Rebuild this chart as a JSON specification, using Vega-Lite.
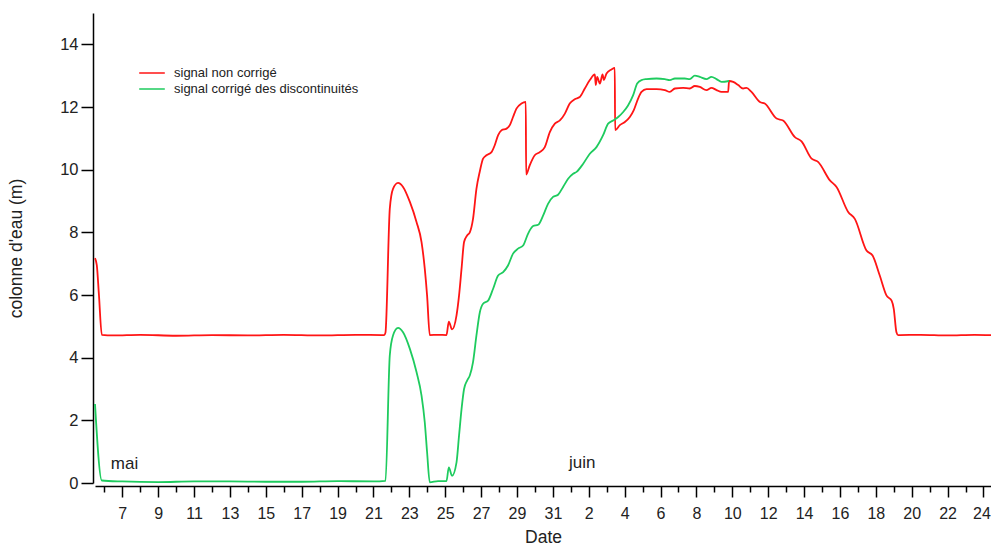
{
  "$schema": "https://vega.github.io/schema/vega-lite/v6.json",
  "width": 896,
  "height": 470,
  "autosize": "none",
  "padding": {"left": 95, "top": 13, "right": 0, "bottom": 63},
  "background": "white",
  "config": {
    "font": "Liberation Sans",
    "view": {"stroke": null},
    "axis": {
      "domainColor": "black", "tickColor": "black", "labelColor": "#222222", "titleColor": "#222222",
      "labelFont": "Liberation Sans", "titleFont": "Liberation Sans",
      "labelFontSize": 16.5, "titleFontSize": 17.5, "titleFontWeight": "normal",
      "grid": false, "domainWidth": 1.5, "tickWidth": 1.5
    },
    "legend": {"labelFont": "Liberation Sans"}
  },
  "datasets": {
    "brut": [
      {"jour": 5.48, "h": 7.18}, {"jour": 5.58, "h": 6.95}, {"jour": 5.7, "h": 6.0}, {"jour": 5.86, "h": 4.73},
      {"jour": 6.5, "h": 4.71}, {"jour": 8.0, "h": 4.73}, {"jour": 10.0, "h": 4.7}, {"jour": 12.0, "h": 4.72},
      {"jour": 14.0, "h": 4.71}, {"jour": 16.0, "h": 4.73}, {"jour": 18.0, "h": 4.71}, {"jour": 20.0, "h": 4.73},
      {"jour": 21.6, "h": 4.72}, {"jour": 21.67, "h": 4.8}, {"jour": 21.91, "h": 8.75}, {"jour": 22.09, "h": 9.39},
      {"jour": 22.37, "h": 9.58}, {"jour": 22.65, "h": 9.45}, {"jour": 23.03, "h": 8.97}, {"jour": 23.4, "h": 8.33},
      {"jour": 23.68, "h": 7.69}, {"jour": 23.86, "h": 6.84}, {"jour": 23.99, "h": 5.98}, {"jour": 24.14, "h": 4.72},
      {"jour": 24.6, "h": 4.73}, {"jour": 25.07, "h": 4.72}, {"jour": 25.2, "h": 5.15}, {"jour": 25.38, "h": 4.9},
      {"jour": 25.63, "h": 5.35}, {"jour": 25.77, "h": 5.98}, {"jour": 25.91, "h": 6.84}, {"jour": 26.05, "h": 7.69},
      {"jour": 26.22, "h": 7.9}, {"jour": 26.37, "h": 8.0}, {"jour": 26.55, "h": 8.43}, {"jour": 26.74, "h": 9.39},
      {"jour": 26.93, "h": 9.95}, {"jour": 27.11, "h": 10.35}, {"jour": 27.3, "h": 10.46}, {"jour": 27.58, "h": 10.56},
      {"jour": 27.76, "h": 10.78}, {"jour": 27.95, "h": 11.1}, {"jour": 28.14, "h": 11.26}, {"jour": 28.42, "h": 11.31},
      {"jour": 28.6, "h": 11.42}, {"jour": 28.78, "h": 11.68}, {"jour": 28.97, "h": 11.95}, {"jour": 29.25, "h": 12.11},
      {"jour": 29.49, "h": 12.16}, {"jour": 29.51, "h": 9.84}, {"jour": 29.71, "h": 10.14}, {"jour": 29.99, "h": 10.46},
      {"jour": 30.27, "h": 10.56}, {"jour": 30.55, "h": 10.72}, {"jour": 30.83, "h": 11.2}, {"jour": 31.11, "h": 11.47},
      {"jour": 31.39, "h": 11.57}, {"jour": 31.67, "h": 11.79}, {"jour": 31.94, "h": 12.11}, {"jour": 32.22, "h": 12.25},
      {"jour": 32.5, "h": 12.32}, {"jour": 32.78, "h": 12.59}, {"jour": 33.06, "h": 12.86}, {"jour": 33.34, "h": 13.04},
      {"jour": 33.39, "h": 12.7}, {"jour": 33.47, "h": 12.96}, {"jour": 33.62, "h": 12.75}, {"jour": 33.77, "h": 13.04},
      {"jour": 33.84, "h": 12.86}, {"jour": 33.99, "h": 13.07}, {"jour": 34.27, "h": 13.2}, {"jour": 34.45, "h": 13.25},
      {"jour": 34.47, "h": 11.26}, {"jour": 34.73, "h": 11.42}, {"jour": 35.01, "h": 11.52}, {"jour": 35.29, "h": 11.68},
      {"jour": 35.51, "h": 11.9}, {"jour": 35.75, "h": 12.27}, {"jour": 35.94, "h": 12.48}, {"jour": 36.22, "h": 12.57},
      {"jour": 36.78, "h": 12.57}, {"jour": 37.24, "h": 12.54}, {"jour": 37.52, "h": 12.48}, {"jour": 37.8, "h": 12.59},
      {"jour": 38.26, "h": 12.61}, {"jour": 38.63, "h": 12.59}, {"jour": 38.91, "h": 12.67}, {"jour": 39.19, "h": 12.64},
      {"jour": 39.56, "h": 12.54}, {"jour": 39.84, "h": 12.61}, {"jour": 40.12, "h": 12.54}, {"jour": 40.4, "h": 12.48},
      {"jour": 40.77, "h": 12.48}, {"jour": 40.82, "h": 12.83}, {"jour": 41.05, "h": 12.8}, {"jour": 41.33, "h": 12.7},
      {"jour": 41.6, "h": 12.59}, {"jour": 41.79, "h": 12.61}, {"jour": 42.07, "h": 12.48}, {"jour": 42.54, "h": 12.16},
      {"jour": 42.81, "h": 12.11}, {"jour": 43.47, "h": 11.63}, {"jour": 43.83, "h": 11.57}, {"jour": 44.49, "h": 11.04},
      {"jour": 44.86, "h": 10.9}, {"jour": 45.42, "h": 10.35}, {"jour": 45.78, "h": 10.25}, {"jour": 46.44, "h": 9.66},
      {"jour": 46.81, "h": 9.45}, {"jour": 47.46, "h": 8.65}, {"jour": 47.83, "h": 8.43}, {"jour": 48.48, "h": 7.42},
      {"jour": 48.82, "h": 7.26}, {"jour": 49.22, "h": 6.62}, {"jour": 49.6, "h": 5.98}, {"jour": 49.88, "h": 5.82},
      {"jour": 50.0, "h": 5.56}, {"jour": 50.15, "h": 4.81}, {"jour": 50.24, "h": 4.72}, {"jour": 51.5, "h": 4.73},
      {"jour": 53.0, "h": 4.71}, {"jour": 54.5, "h": 4.73}, {"jour": 55.42, "h": 4.72}
    ],
    "corrige": [
      {"jour": 5.48, "h": 2.52}, {"jour": 5.86, "h": 0.08}, {"jour": 7.0, "h": 0.05}, {"jour": 9.0, "h": 0.03},
      {"jour": 11.0, "h": 0.05}, {"jour": 13.0, "h": 0.05}, {"jour": 15.0, "h": 0.04}, {"jour": 17.0, "h": 0.04},
      {"jour": 19.0, "h": 0.06}, {"jour": 21.0, "h": 0.05}, {"jour": 21.67, "h": 0.07}, {"jour": 21.91, "h": 4.07},
      {"jour": 22.09, "h": 4.71}, {"jour": 22.37, "h": 4.95}, {"jour": 22.65, "h": 4.81}, {"jour": 23.03, "h": 4.28},
      {"jour": 23.4, "h": 3.54}, {"jour": 23.68, "h": 2.79}, {"jour": 23.86, "h": 1.94}, {"jour": 23.99, "h": 0.98},
      {"jour": 24.14, "h": 0.02}, {"jour": 24.6, "h": 0.06}, {"jour": 25.07, "h": 0.06}, {"jour": 25.2, "h": 0.5},
      {"jour": 25.38, "h": 0.23}, {"jour": 25.63, "h": 0.66}, {"jour": 25.77, "h": 1.51}, {"jour": 25.91, "h": 2.36},
      {"jour": 26.05, "h": 3.0}, {"jour": 26.22, "h": 3.27}, {"jour": 26.37, "h": 3.43}, {"jour": 26.55, "h": 3.86},
      {"jour": 26.74, "h": 4.71}, {"jour": 26.93, "h": 5.45}, {"jour": 27.11, "h": 5.72}, {"jour": 27.39, "h": 5.82},
      {"jour": 27.67, "h": 6.2}, {"jour": 27.95, "h": 6.62}, {"jour": 28.23, "h": 6.73}, {"jour": 28.5, "h": 6.94},
      {"jour": 28.78, "h": 7.32}, {"jour": 29.06, "h": 7.48}, {"jour": 29.34, "h": 7.58}, {"jour": 29.62, "h": 7.96},
      {"jour": 29.9, "h": 8.2}, {"jour": 30.18, "h": 8.24}, {"jour": 30.46, "h": 8.54}, {"jour": 30.73, "h": 8.91},
      {"jour": 31.01, "h": 9.13}, {"jour": 31.29, "h": 9.2}, {"jour": 31.57, "h": 9.45}, {"jour": 31.85, "h": 9.71},
      {"jour": 32.13, "h": 9.87}, {"jour": 32.32, "h": 9.93}, {"jour": 32.69, "h": 10.19}, {"jour": 33.06, "h": 10.51},
      {"jour": 33.43, "h": 10.72}, {"jour": 33.8, "h": 11.1}, {"jour": 34.08, "h": 11.47}, {"jour": 34.36, "h": 11.57},
      {"jour": 34.64, "h": 11.68}, {"jour": 34.92, "h": 11.84}, {"jour": 35.19, "h": 12.05}, {"jour": 35.47, "h": 12.37},
      {"jour": 35.7, "h": 12.75}, {"jour": 35.94, "h": 12.86}, {"jour": 36.22, "h": 12.89}, {"jour": 36.78, "h": 12.91},
      {"jour": 37.24, "h": 12.89}, {"jour": 37.52, "h": 12.86}, {"jour": 37.8, "h": 12.91}, {"jour": 38.35, "h": 12.91},
      {"jour": 38.63, "h": 12.89}, {"jour": 38.91, "h": 13.0}, {"jour": 39.19, "h": 12.96}, {"jour": 39.56, "h": 12.89},
      {"jour": 39.84, "h": 12.96}, {"jour": 40.12, "h": 12.89}, {"jour": 40.4, "h": 12.8}, {"jour": 40.82, "h": 12.83}
    ],
    "mois": [
      {"jour": 6.36, "h": 0.62, "mois": "mai"},
      {"jour": 31.9, "h": 0.63, "mois": "juin"}
    ]
  },
  "encoding": {
    "x": {
      "field": "jour", "type": "quantitative",
      "scale": {"domain": [5.48, 55.42], "nice": false, "zero": false},
      "axis": {
        "title": "Date",
        "values": [6,7,8,9,10,11,12,13,14,15,16,17,18,19,20,21,22,23,24,25,26,27,28,29,30,31,32,33,34,35,36,37,38,39,40,41,42,43,44,45,46,47,48,49,50,51,52,53,54,55],
        "labelExpr": "(datum.value - 7) % 2 == 0 ? '' + (datum.value > 31 ? datum.value - 31 : datum.value) : ''",
        "tickSize": {"condition": {"test": "(datum.value - 7) % 2 == 0", "value": 11}, "value": 6},
        "labelOffset": {"condition": {"test": "datum.value == 55", "value": -2}, "value": 0},
        "offset": 3,
        "labelPadding": 8,
        "labelFontSize": 16,
        "labelOverlap": false,
        "labelFlush": false,
        "labelBound": false,
        "titleY": 51,
        "titleBaseline": "middle"
      }
    },
    "y": {
      "field": "h", "type": "quantitative",
      "scale": {"domain": [0, 15], "nice": false},
      "axis": {
        "title": "colonne d'eau (m)",
        "values": [0, 2, 4, 6, 8, 10, 12, 14],
        "tickSize": 12,
        "offset": 2,
        "labelPadding": 3,
        "titleX": -77,
        "titleY": 235,
        "titleAngle": -90,
        "titleAlign": "center",
        "titleBaseline": "middle"
      }
    }
  },
  "layer": [
    {
      "data": {"name": "brut"},
      "mark": {"type": "line", "strokeWidth": 1.8, "interpolate": "monotone"},
      "encoding": {
        "color": {
          "datum": "signal non corrigé", "type": "nominal",
          "scale": {"domain": ["signal non corrigé", "signal corrigé des discontinuités"], "range": ["#ff1515", "#1ecb5e"]},
          "legend": {
            "title": null, "orient": "none", "legendX": 48, "legendY": 51,
            "symbolType": "M-1.6,0H1.6", "symbolSize": 256, "symbolStrokeWidth": 1.5,
            "symbolFillColor": "transparent",
            "labelFontSize": 13, "labelColor": "#222222", "labelOffset": 13, "labelLimit": 0,
            "rowPadding": 0, "padding": 0
          }
        }
      }
    },
    {
      "data": {"name": "corrige"},
      "mark": {"type": "line", "strokeWidth": 1.8, "interpolate": "monotone"},
      "encoding": {"color": {"datum": "signal corrigé des discontinuités", "type": "nominal"}}
    },
    {
      "data": {"name": "mois"},
      "mark": {"type": "text", "align": "left", "baseline": "middle", "fontSize": 17, "font": "Liberation Sans", "color": "#222222"},
      "encoding": {"text": {"field": "mois"}}
    }
  ]
}
